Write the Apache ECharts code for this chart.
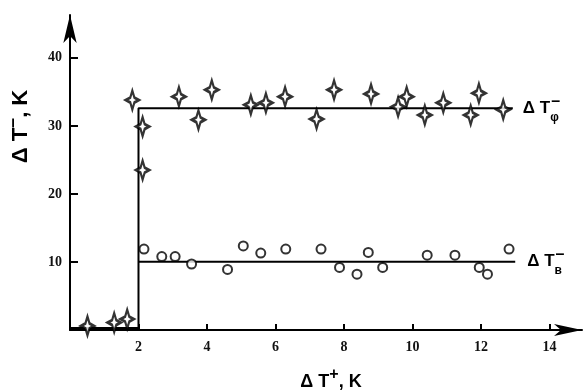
<!DOCTYPE html>
<html>
<head>
<meta charset="utf-8">
<script src="https://cdn.jsdelivr.net/npm/echarts@6/dist/echarts.min.js"></script>
<style>
  html, body { margin: 0; padding: 0; background: #fff; }
  #chart { width: 586px; height: 390px; }
</style>
</head>
<body>
<div id="chart"></div>
<script>
// ΔTφ⁻ points (stars)
const starX = [0.51, 1.29, 1.67, 1.82, 2.12, 2.12, 3.18, 3.75, 4.14, 5.28, 5.72, 6.28, 7.2, 7.71, 8.79, 9.58, 9.83, 10.36, 10.9, 11.7, 11.94, 12.65];
const starY = [0.6, 1.1, 1.6, 33.8, 29.9, 23.5, 34.3, 30.9, 35.3, 33.1, 33.4, 34.3, 31.0, 35.3, 34.7, 32.8, 34.3, 31.6, 33.4, 31.6, 34.8, 32.4];

// ΔTв⁻ points (circles)
const circleX = [2.16, 2.68, 3.07, 3.55, 4.6, 5.06, 5.57, 6.3, 7.33, 7.87, 8.38, 8.71, 9.13, 10.43, 11.24, 11.95, 12.19, 12.82];
const circleY = [11.9, 10.8, 10.8, 9.7, 8.9, 12.35, 11.3, 11.9, 11.9, 9.2, 8.2, 11.4, 9.2, 11.0, 11.0, 9.2, 8.2, 11.9];

// step lines
const stepPhiX = [0, 2, 2, 12.93];
const stepPhiY = [0.3, 0.3, 32.6, 32.6];
const stepVX = [2, 13];
const stepVY = [10.05, 10.05];

const xTicks = [2, 4, 6, 8, 10, 12, 14];
const yTicks = [10, 20, 30, 40];

const zip = (xs, ys) => xs.map((x, i) => [x, ys[i]]);

const starPath = 'path://M0,-10 L2.2,-2.6 L7,0 L2.2,2.6 L0,10 L-2.2,2.6 L-7,0 L-2.2,-2.6 Z';

const xTitleRich = {
  m: { fontFamily: 'Liberation Sans', fontWeight: 'bold', fontSize: 18, color: '#000', lineHeight: 24, verticalAlign: 'bottom' },
  sup: { fontFamily: 'Liberation Sans', fontWeight: 'bold', fontSize: 16, color: '#000', lineHeight: 14, verticalAlign: 'top' }
};
const yTitleRich = {
  m: { fontFamily: 'Liberation Sans', fontWeight: 'bold', fontSize: 22, color: '#000', lineHeight: 28, verticalAlign: 'bottom' },
  sup: { fontFamily: 'Liberation Sans', fontWeight: 'bold', fontSize: 18, color: '#000', lineHeight: 14, verticalAlign: 'top' }
};
const endRich = {
  m: { fontFamily: 'Liberation Sans', fontWeight: 'bold', fontSize: 17, color: '#000', lineHeight: 30, verticalAlign: 'middle' },
  sub: { fontFamily: 'Liberation Sans', fontWeight: 'bold', fontSize: 12, color: '#000', lineHeight: 12, verticalAlign: 'bottom', width: 1, align: 'left' },
  sup: { fontFamily: 'Liberation Sans', fontWeight: 'bold', fontSize: 16, color: '#000', lineHeight: 14, verticalAlign: 'top' }
};

const chart = echarts.init(document.getElementById('chart'), null, { renderer: 'canvas' });

chart.setOption({
  animation: false,
  backgroundColor: '#fff',
  grid: { left: 70, right: 4, top: 15, bottom: 60, outerBoundsMode: 'none', containLabel: false },
  xAxis: {
    type: 'value',
    min: 0,
    max: 14.95,
    interval: 2,
    name: '{m|Δ T}{sup|+}{m|, K}',
    nameLocation: 'middle',
    nameGap: 37,
    nameMoveOverlap: false,
    nameTextStyle: { rich: xTitleRich, padding: [0, 0, 0, 10] },
    axisLine: { lineStyle: { color: '#000', width: 2 }, symbol: ['none', 'arrow'], symbolSize: [9, 28] },
    axisTick: { inside: true, length: 6, lineStyle: { color: '#000', width: 2 }, customValues: xTicks },
    axisLabel: { customValues: xTicks, margin: 10, color: '#111', fontFamily: 'Liberation Serif', fontWeight: 'bold', fontSize: 14 },
    splitLine: { show: false }
  },
  yAxis: {
    type: 'value',
    min: 0,
    max: 46.3,
    interval: 10,
    name: '{m|Δ T}{sup|–}{m|, K}',
    nameLocation: 'middle',
    nameRotate: 90,
    nameGap: 38,
    nameMoveOverlap: false,
    nameTextStyle: { rich: yTitleRich, padding: [0, 0, 0, 92] },
    axisLine: { lineStyle: { color: '#000', width: 2 }, symbol: ['none', 'arrow'], symbolSize: [10, 28] },
    axisTick: { inside: true, length: 8, lineStyle: { color: '#000', width: 2 }, customValues: yTicks },
    axisLabel: { customValues: yTicks, margin: 8, color: '#111', fontFamily: 'Liberation Serif', fontWeight: 'bold', fontSize: 14 },
    splitLine: { show: false }
  },
  series: [
    {
      type: 'line',
      data: zip(stepPhiX, stepPhiY),
      symbol: 'none',
      lineStyle: { color: '#000', width: 2 },
      endLabel: {
        show: true,
        distance: 10,
        formatter: '{m|Δ T}{sub|φ}{sup|–}',
        rich: endRich
      },
      z: 1
    },
    {
      type: 'line',
      data: zip(stepVX, stepVY),
      symbol: 'none',
      lineStyle: { color: '#000', width: 2 },
      endLabel: {
        show: true,
        distance: 12,
        formatter: '{m|Δ T}{sub|в}{sup|–}',
        rich: endRich
      },
      z: 1
    },
    {
      type: 'scatter',
      data: zip(circleX, circleY),
      symbol: 'emptyCircle',
      symbolSize: 9,
      itemStyle: { color: '#000', borderColor: '#000', borderWidth: 2 },
      z: 3
    },
    {
      type: 'scatter',
      data: zip(starX, starY),
      symbol: starPath,
      symbolSize: [13, 19],
      itemStyle: { color: '#fff', borderColor: '#000', borderWidth: 2.5 },
      z: 4
    }
  ]
});
</script>
</body>
</html>
